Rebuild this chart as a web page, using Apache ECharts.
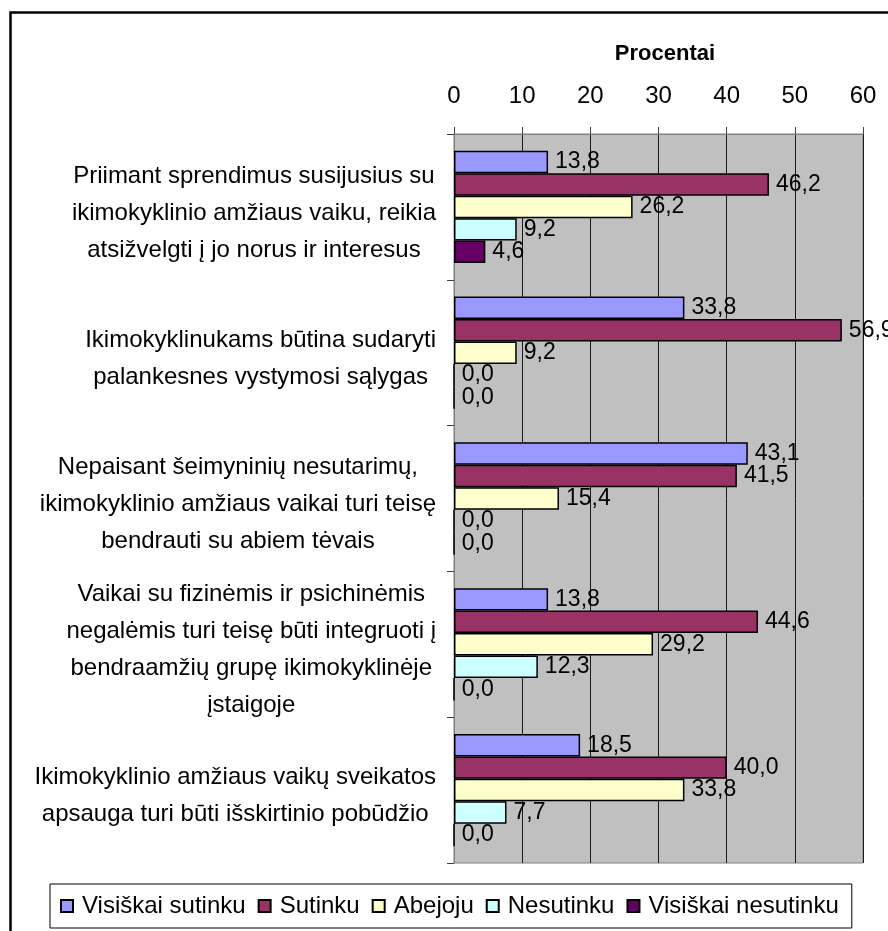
<!DOCTYPE html>
<html>
<head>
<meta charset="utf-8">
<script src="https://cdn.jsdelivr.net/npm/echarts@6/dist/echarts.min.js"></script>
<style>
html, body { margin: 0; padding: 0; background: #fff; }
#main { width: 888px; height: 931px; }
</style>
</head>
<body>
<div id="main"></div>
<script>
var categories = [
  "Priimant sprendimus susijusius su\nikimokyklinio amžiaus vaiku, reikia\natsižvelgti į jo norus ir interesus",
  "Ikimokyklinukams būtina sudaryti\npalankesnes vystymosi sąlygas",
  "Nepaisant šeimyninių nesutarimų,\nikimokyklinio amžiaus vaikai turi teisę\nbendrauti su abiem tėvais",
  "Vaikai su fizinėmis ir psichinėmis\nnegalėmis turi teisę būti integruoti į\nbendraamžių grupę ikimokyklinėje\nįstaigoje",
  "Ikimokyklinio amžiaus vaikų sveikatos\napsauga turi būti išskirtinio pobūdžio"
];
var seriesNames = ["Visiškai sutinku", "Sutinku", "Abejoju", "Nesutinku", "Visiškai nesutinku"];
var visiskaiSutinku = [13.8, 33.8, 43.1, 13.8, 18.5];
var sutinku = [46.2, 56.9, 41.5, 44.6, 40.0];
var abejoju = [26.2, 9.2, 15.4, 29.2, 33.8];
var nesutinku = [9.2, 0.0, 0.0, 12.3, 7.7];
var visiskaiNesutinku = [4.6, 0.0, 0.0, 0.0, 0.0];
var seriesValues = [visiskaiSutinku, sutinku, abejoju, nesutinku, visiskaiNesutinku];
var colors = ["#9999ff", "#993366", "#ffffcc", "#ccffff", "#660066"];

var FONT = "Liberation Sans, Arial, sans-serif";

var myChart = echarts.init(document.getElementById("main"));

var seriesData = [];
for (var k = 0; k < seriesNames.length; k++) {
  seriesData.push({
    name: seriesNames[k],
    type: "bar",
    data: seriesValues[k],
    barGap: "0%",
    barCategoryGap: "23%",
    itemStyle: { color: colors[k], borderColor: "#000", borderWidth: 1.5 },
    label: {
      show: true,
      position: "right",
      distance: 7,
      color: "#000",
      fontSize: 23,
      fontFamily: FONT,
      formatter: function (p) {
        return p.value.toFixed(1).replace(".", ",");
      }
    },
    animation: false
  });
}

var option = {
  textStyle: { fontFamily: FONT, color: "#000" },
  title: {
    text: "Procentai",
    left: 660,
    top: 38,
    textAlign: "center",
    textStyle: { fontSize: 22, fontWeight: "bold", color: "#000", fontFamily: FONT }
  },
  legend: {
    left: 50,
    top: 884,
    data: seriesNames,
    icon: "rect",
    itemWidth: 12,
    itemHeight: 12,
    itemGap: 12,
    padding: [10, 13, 10, 10],
    borderColor: "#000",
    borderWidth: 1,
    textStyle: { fontSize: 24, color: "#000", fontFamily: FONT, padding: [0, 0, 0, 4] }
  },
  grid: {
    left: 454,
    right: 25,
    top: 134,
    bottom: 68,
    show: true,
    backgroundColor: "#c0c0c0",
    borderColor: "#808080",
    borderWidth: 1
  },
  xAxis: {
    type: "value",
    position: "top",
    min: 0,
    max: 60,
    interval: 10,
    axisLine: { show: true, lineStyle: { color: "#808080", width: 1 } },
    axisTick: { show: true, length: 7, lineStyle: { color: "#404040" } },
    axisLabel: { margin: 26, fontSize: 24, color: "#000", fontFamily: FONT },
    splitLine: { show: true, lineStyle: { color: "#1a1a1a", width: 1 } }
  },
  yAxis: {
    type: "category",
    inverse: true,
    data: categories,
    axisLine: { show: true, lineStyle: { color: "#808080", width: 1 } },
    axisTick: { show: true, length: 7, lineStyle: { color: "#404040" } },
    axisLabel: {
      interval: 0,
      margin: 18,
      align: "right",
      padding: [12, 0, 0, 0],
      formatter: function (value) {
        return value.split("\n").map(function (l) { return "{c|" + l + "}"; }).join("\n");
      },
      rich: {
        c: { align: "center", fontSize: 24, lineHeight: 37, color: "#000", fontFamily: FONT }
      }
    }
  },
  graphic: [{
    type: "rect",
    left: 8,
    top: 10,
    shape: { x: 0, y: 0, width: 1000, height: 1000 },
    style: { fill: "none", stroke: "#000", lineWidth: 2.5 },
    silent: true
  }],
  series: seriesData,
  animation: false
};

myChart.setOption(option);
</script>
</body>
</html>
